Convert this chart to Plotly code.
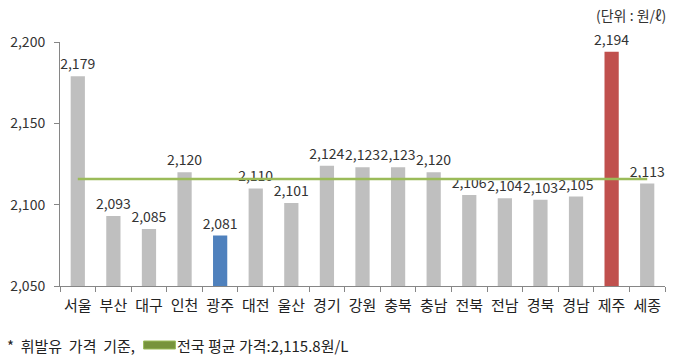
import plotly.graph_objects as go

regions = ["서울", "부산", "대구", "인천", "광주", "대전", "울산", "경기", "강원",
           "충북", "충남", "전북", "전남", "경북", "경남", "제주", "세종"]
prices = [2179, 2093, 2085, 2120, 2081, 2110, 2101, 2124, 2123,
          2123, 2120, 2106, 2104, 2103, 2105, 2194, 2113]
national_avg = 2115.8
y_ticks = [2050, 2100, 2150, 2200]

colors = []
for r in regions:
    if r == "광주":
        colors.append("#4f81bd")
    elif r == "제주":
        colors.append("#c0504d")
    else:
        colors.append("#bfbfbf")

font_family = "Noto Sans CJK KR, Noto Sans, sans-serif"
PW = 608.0
PH = 244.0

fig = go.Figure()
fig.add_trace(go.Bar(
    x=regions, y=prices, marker=dict(color=colors, line=dict(width=0)),
    width=0.4, text=[f"{v:,}" for v in prices], textposition="outside",
    constraintext="none",
    textfont=dict(size=14, color="#333333", family=font_family),
    cliponaxis=False, showlegend=False,
))
fig.add_trace(go.Scatter(
    x=[regions[0], regions[-1]], y=[national_avg, national_avg], mode="lines",
    line=dict(color="#9bbb59", width=2.5), showlegend=False,
))

fig.update_layout(
    width=675, height=356,
    margin=dict(l=57, r=10, t=42, b=70),
    plot_bgcolor="white", paper_bgcolor="white",
    font=dict(family=font_family, color="#333333"),
    bargap=0.6,
    xaxis=dict(
        showline=True, linecolor="#868686", linewidth=1,
        ticks="outside", tickson="boundaries", ticklen=5, tickcolor="#868686",
        ticklabelstandoff=6, tickangle=0,
        tickfont=dict(size=15, color="#222222"), showgrid=False,
    ),
    yaxis=dict(
        range=[2050, 2200], tickvals=y_ticks, ticktext=[f"{v:,}" for v in y_ticks],
        showline=True, linecolor="#868686", linewidth=1,
        ticks="outside", ticklen=5, tickcolor="#868686", ticklabelstandoff=6,
        tickfont=dict(size=14, color="#333333"), showgrid=False, zeroline=False,
    ),
    annotations=[
        dict(text="(단위 : 원/ℓ)", xref="paper", yref="paper", x=(668 - 57) / PW, y=1.0,
             yshift=27, xanchor="right", yanchor="middle", showarrow=False,
             font=dict(size=14, color="#333333")),
        dict(text="*  휘발유  가격  기준,", xref="paper", yref="paper", x=(2 - 57) / PW, y=0,
             yshift=-59, xanchor="left", yanchor="middle", showarrow=False,
             font=dict(size=15, color="#222222")),
        dict(text="전국 평균 가격:2,115.8원/L", xref="paper", yref="paper",
             x=(173 - 57) / PW, y=0, yshift=-59, xanchor="left", yanchor="middle",
             showarrow=False, font=dict(size=15, color="#222222")),
    ],
    shapes=[
        dict(type="rect", xref="paper", yref="paper",
             x0=(141 - 57) / PW, x1=(173 - 57) / PW,
             y0=-(349 - 286) / PH, y1=-(341 - 286) / PH,
             fillcolor="#77933c", line=dict(color="#9bbb59", width=1)),
    ],
)

fig.write_html("out.html", config={"displayModeBar": False},
               post_script="document.body.style.margin='0';")
